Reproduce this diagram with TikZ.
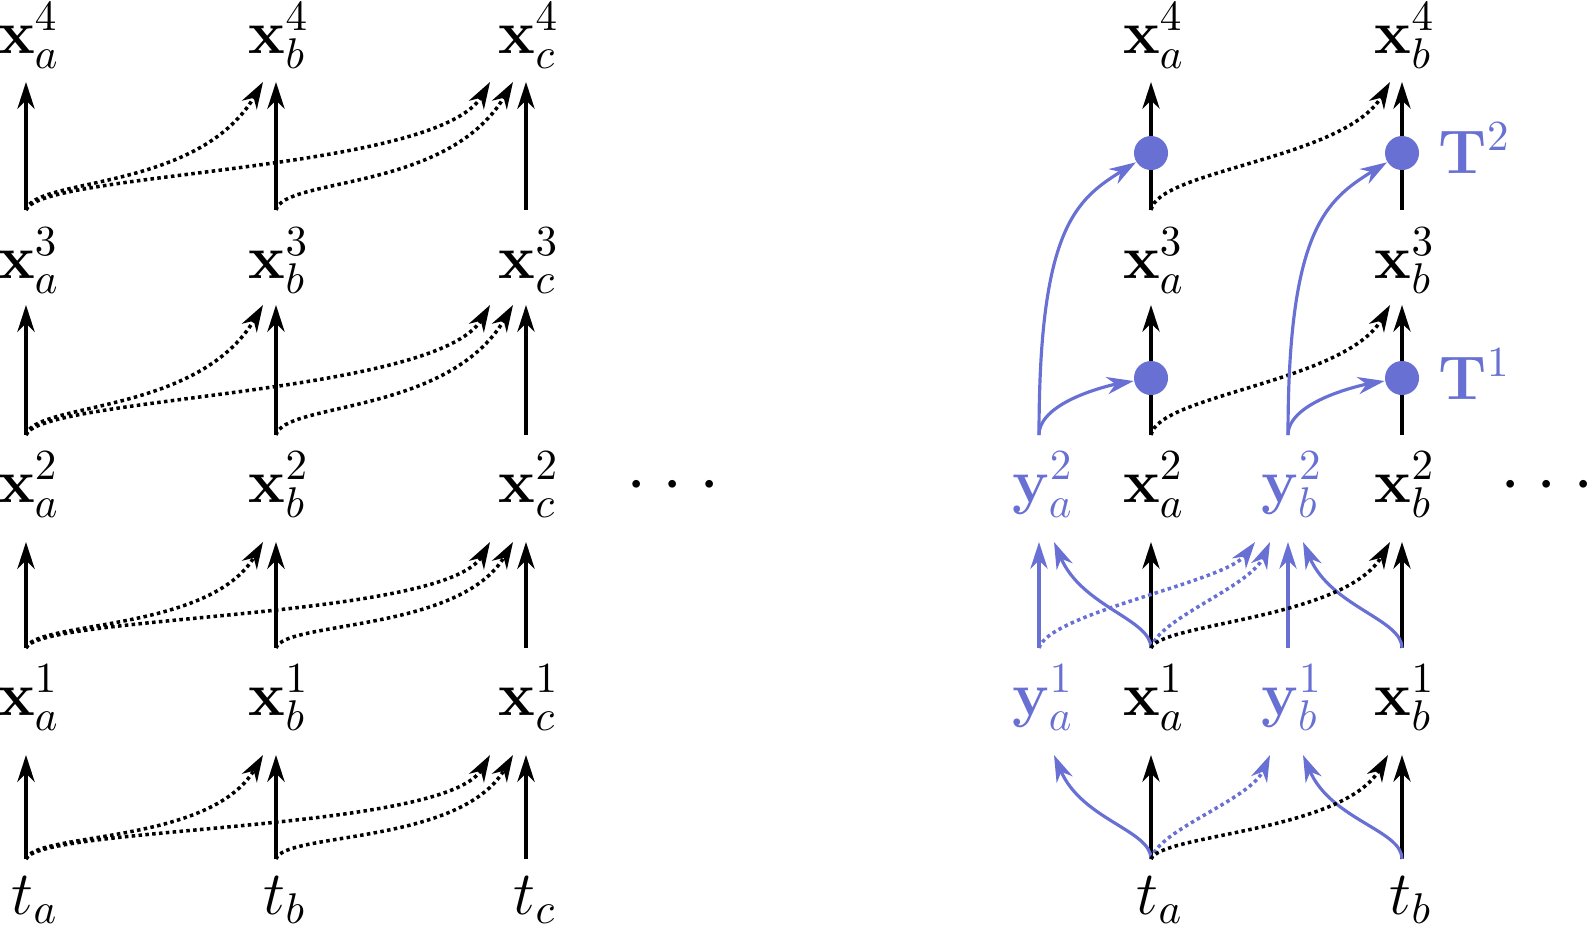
\documentclass[tikz,border=0pt]{standalone}
\usepackage{graphicx}
\usetikzlibrary{arrows.meta}
\definecolor{myblue}{RGB}{104,112,211}
\newcommand{\lbtext}[1]{\scalebox{1.22}{$#1$}}
\newcommand{\threedots}{$\mathord{\cdot}\hspace{4.7pt}\mathord{\cdot}\hspace{4.7pt}\mathord{\cdot}$}
\begin{document}
\begin{tikzpicture}[x=0.01cm,y=-0.01cm,
  lbl/.style={anchor=base, inner sep=0pt, font=\Large},
  tip/.style={-{Stealth[length=7.6pt,width=4.9pt,inset=2.4pt]}, line width=0.9pt},
  dotarr/.style={tip, line width=1pt, dash pattern=on 1pt off 0.95pt},
  dotnode/.style={circle, fill=myblue, inner sep=0pt, minimum size=0.34cm},
  dotsnode/.style={inner sep=0pt, font=\huge}
]
\useasboundingbox (0,0) rectangle (1589,932);

% ---------- left part ----------
\foreach \cl/\X in {a/26,b/276,c/526}{
  \node[lbl] (L\cl x4) at (\X+3,53) {\lbtext{\mathbf{x}_{\cl}^{4}}};
  \node[lbl] (L\cl x3) at (\X+3,278) {\lbtext{\mathbf{x}_{\cl}^{3}}};
  \node[lbl] (L\cl x2) at (\X+3,502) {\lbtext{\mathbf{x}_{\cl}^{2}}};
  \node[lbl] (L\cl x1) at (\X+3,715) {\lbtext{\mathbf{x}_{\cl}^{1}}};
  \node[lbl] (L\cl t) at (\X+9,914) {\lbtext{t_{\cl}}};
  \foreach \lv/\B/\T in {1/859/755,2/648/542,3/435/305,4/210/82}{
    \coordinate (L\cl b\lv) at (\X,\B);
    \coordinate (L\cl t\lv) at (\X,\T);
    \coordinate (L\cl n\lv) at (\X-13,\T);
    \coordinate (L\cl f\lv) at (\X-36,\T);
    \draw[tip] (L\cl b\lv) -- (L\cl t\lv);
  }
}
\foreach \lv/\sa/\ax/\ea/\sb/\bx/\eb in {1/-27/-53/90/-33/-45/77,2/-27/-53/90/-33/-45/77,3/-33/-65/110/-38/-53/90,4/-33/-65/110/-38/-53/90}{
  \draw[dotarr] (Lab\lv) .. controls +(8,\sa) and +(\ax,\ea) .. (Lbn\lv);
  \draw[dotarr] (Lbb\lv) .. controls +(8,\sa) and +(\ax,\ea) .. (Lcn\lv);
  \draw[dotarr] (Lab\lv) .. controls +(13,\sb) and +(\bx,\eb) .. (Lcf\lv);
}
\node[dotsnode] (dotsL) at (673,486) {\threedots};

% ---------- right part: labels ----------
\foreach \cl/\X in {a/1151,b/1402}{
  \node[lbl] (R\cl x4) at (\X+3,53) {\lbtext{\mathbf{x}_{\cl}^{4}}};
  \node[lbl] (R\cl x3) at (\X+3,278) {\lbtext{\mathbf{x}_{\cl}^{3}}};
  \node[lbl] (R\cl x2) at (\X+3,502) {\lbtext{\mathbf{x}_{\cl}^{2}}};
  \node[lbl] (R\cl x1) at (\X+3,715) {\lbtext{\mathbf{x}_{\cl}^{1}}};
  \node[lbl] (R\cl t) at (\X+9,914) {\lbtext{t_{\cl}}};
}
\foreach \cl/\X in {a/1039,b/1288}{
  \node[lbl,text=myblue] (R\cl y2) at (\X+4,502) {\lbtext{\mathbf{y}_{\cl}^{2}}};
  \node[lbl,text=myblue] (R\cl y1) at (\X+4,715) {\lbtext{\mathbf{y}_{\cl}^{1}}};
}
\node[lbl,anchor=base west,text=myblue] (T2) at (1438,173) {\lbtext{\mathbf{T}^{2}}};
\node[lbl,anchor=base west,text=myblue] (T1) at (1438,399) {\lbtext{\mathbf{T}^{1}}};
\node[dotsnode] (dotsR) at (1547,486) {\threedots};

% ---------- right part: coordinates ----------
\coordinate (Rtab) at (1151,859);
\coordinate (Rtbb) at (1402,859);
\coordinate (Rxa1t) at (1151,755);
\coordinate (Rya1s) at (1054,755);
\coordinate (Ryb1n) at (1270,755);
\coordinate (Ryb1s) at (1303,755);
\coordinate (Rxb1n) at (1388,755);
\coordinate (Rxb1t) at (1402,755);

\coordinate (Rya1b) at (1039,648);
\coordinate (Rxa1b) at (1151,648);
\coordinate (Ryb1b) at (1288,648);
\coordinate (Rxb1b) at (1402,648);
\coordinate (Rya2t) at (1039,542);
\coordinate (Rya2s) at (1054,542);
\coordinate (Rxa2t) at (1151,542);
\coordinate (Ryb2f) at (1255,542);
\coordinate (Ryb2n) at (1270,542);
\coordinate (Ryb2t) at (1288,542);
\coordinate (Ryb2s) at (1303,542);
\coordinate (Rxb2n) at (1390,542);
\coordinate (Rxb2t) at (1402,542);

\coordinate (Rya2b) at (1039,435);
\coordinate (Rxa2b) at (1151,435);
\coordinate (Ryb2b) at (1288,435);
\coordinate (Rxb2b) at (1402,435);
\coordinate (Rxa3t) at (1151,305);
\coordinate (Rxb3n) at (1390,305);
\coordinate (Rxb3t) at (1402,305);

\coordinate (Rxa3b) at (1151,210);
\coordinate (Rxb3b) at (1402,210);
\coordinate (Rxa4t) at (1151,82);
\coordinate (Rxb4n) at (1390,82);
\coordinate (Rxb4t) at (1402,82);

% ---------- right part: level 1 ----------
\draw[tip] (Rtab) -- (Rxa1t);
\draw[tip] (Rtbb) -- (Rxb1t);
\draw[tip,myblue] (Rtab) .. controls +(0,-29) and +(28,65) .. (Rya1s);
\draw[tip,myblue] (Rtbb) .. controls +(0,-29) and +(28,65) .. (Ryb1s);
\draw[dotarr,myblue] (Rtab) .. controls +(8,-30) and +(-20,45) .. (Ryb1n);
\draw[dotarr] (Rtab) .. controls +(10,-25) and +(-45,77) .. (Rxb1n);

% ---------- right part: level 2 ----------
\draw[tip,myblue] (Rya1b) -- (Rya2t);
\draw[tip,myblue] (Ryb1b) -- (Ryb2t);
\draw[tip] (Rxa1b) -- (Rxa2t);
\draw[tip] (Rxb1b) -- (Rxb2t);
\draw[tip,myblue] (Rxa1b) .. controls +(0,-29) and +(28,65) .. (Rya2s);
\draw[tip,myblue] (Rxb1b) .. controls +(0,-29) and +(28,65) .. (Ryb2s);
\draw[dotarr,myblue] (Rya1b) .. controls +(10,-35) and +(-30,40) .. (Ryb2f);
\draw[dotarr,myblue] (Rxa1b) .. controls +(8,-30) and +(-20,45) .. (Ryb2n);
\draw[dotarr] (Rxa1b) .. controls +(10,-25) and +(-45,77) .. (Rxb2n);

% ---------- right part: levels 3 and 4 ----------
\draw[tip] (Rxa2b) -- (Rxa3t);
\draw[tip] (Rxb2b) -- (Rxb3t);
\draw[dotarr] (Rxa2b) .. controls +(7,-40) and +(-45,77) .. (Rxb3n);
\draw[tip] (Rxa3b) -- (Rxa4t);
\draw[tip] (Rxb3b) -- (Rxb4t);
\draw[dotarr] (Rxa3b) .. controls +(7,-40) and +(-45,77) .. (Rxb4n);

\node[dotnode] (ca1) at (1151,378) {};
\node[dotnode] (ca2) at (1151,153) {};
\node[dotnode] (cb1) at (1402,378) {};
\node[dotnode] (cb2) at (1402,153) {};

\draw[tip,myblue] (Rya2b) .. controls +(0,-35) and +(-35,6) .. (ca1);
\draw[tip,myblue] (Rya2b) .. controls +(0,-205) and +(-76,47) .. (ca2);
\draw[tip,myblue] (Ryb2b) .. controls +(0,-35) and +(-35,6) .. (cb1);
\draw[tip,myblue] (Ryb2b) .. controls +(0,-205) and +(-76,47) .. (cb2);
\end{tikzpicture}
\end{document}
